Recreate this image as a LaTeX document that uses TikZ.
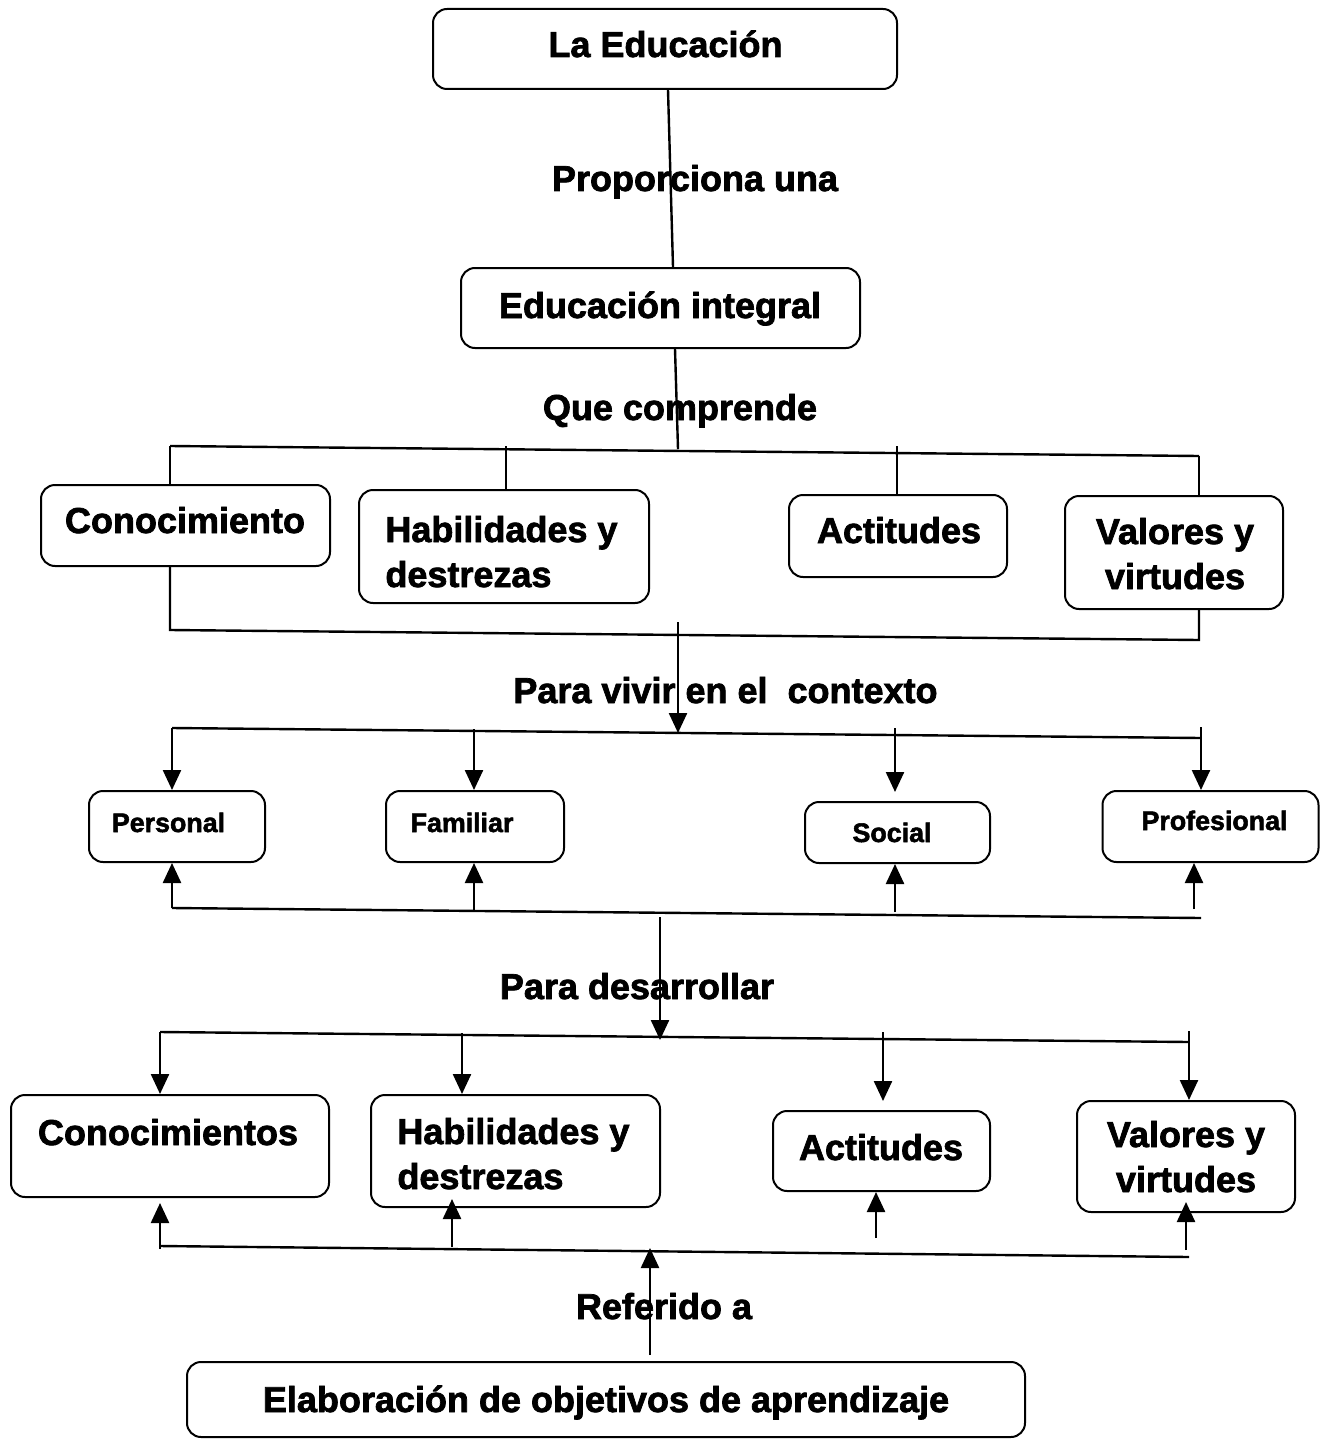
\documentclass[tikz,border=0pt]{standalone}
\usepackage{fontspec}
\setmainfont{Liberation Sans}[BoldFeatures={FakeBold=2}]
\usetikzlibrary{arrows.meta}
\begin{document}
\begin{tikzpicture}[x=0.5pt,y=-0.5pt,
  box/.style 2 args={draw,line width=1pt,rounded corners=7pt,minimum width=#1*0.5pt,minimum height=#2*0.5pt,inner sep=0pt},
  big/.style={font=\bfseries\fontsize{18}{22.5}\selectfont,inner sep=0pt},
  small/.style={font=\bfseries\fontsize{13.4}{16}\selectfont,inner sep=0pt},
  ln/.style={line width=1.2pt},
  arr/.style={ln,-{Triangle[width=9pt,length=10pt]}}]
\useasboundingbox (0,0) rectangle (1324,1439);

% boxes
\node[box={464}{80}] (edu) at (665,49) {};
\node[box={399}{80}] (integ) at (660.5,308) {};
\node[box={289}{81}] (con1) at (185.5,525.5) {};
\node[box={290}{113}] (hab1) at (504,546.5) {};
\node[box={218}{82}] (act1) at (898,536) {};
\node[box={218}{113}] (val1) at (1174,552.5) {};
\node[box={176}{71}] (per) at (177,826.5) {};
\node[box={178}{71}] (fam) at (475,826.5) {};
\node[box={185}{61}] (soc) at (897.5,832.5) {};
\node[box={216}{71}] (pro) at (1210.5,826.5) {};
\node[box={318}{102}] (con2) at (170,1146) {};
\node[box={289}{112}] (hab2) at (515.5,1151) {};
\node[box={217}{80}] (act2) at (881.5,1151) {};
\node[box={218}{111}] (val2) at (1186,1156.5) {};
\node[box={838}{75}] (elab) at (606,1399.5) {};

% texts (multi-line nodes are placed by the baseline of their last line)
\node[big,anchor=base] (tedu) at (665.5,57) {La Educación};
\node[big,anchor=base] (lprop) at (695,191) {Proporciona una};
\node[big,anchor=base] (tint) at (660,318) {Educación integral};
\node[big,anchor=base] (lque) at (680,420) {Que comprende};
\node[big,anchor=base] (tcon1) at (185,533) {Conocimiento};
\node[big,anchor=base west,align=left] (thab1) at (385,587) {Habilidades y\\destrezas};
\node[big,anchor=base] (tact1) at (899,543) {Actitudes};
\node[big,anchor=base,align=center] (tval1) at (1175,589) {Valores y\\virtudes};
\node[big,anchor=base] (lviv) at (725.5,703) {Para vivir en el\ \ contexto};
\node[small,anchor=base] (tper) at (168.5,832) {Personal};
\node[small,anchor=base] (tfam) at (462,832) {Familiar};
\node[small,anchor=base] (tsoc) at (892,842) {Social};
\node[small,anchor=base] (tpro) at (1214.5,830) {Profesional};
\node[big,anchor=base] (ldes) at (637,999) {Para desarrollar};
\node[big,anchor=base] (tcon2) at (168,1145) {Conocimientos};
\node[big,anchor=base west,align=left] (thab2) at (397,1189) {Habilidades y\\destrezas};
\node[big,anchor=base] (tact2) at (881,1160) {Actitudes};
\node[big,anchor=base,align=center] (tval2) at (1186,1192) {Valores y\\virtudes};
\node[big,anchor=base] (lref) at (664,1319) {Referido a};
\node[big,anchor=base] (telab) at (606,1412) {Elaboración de objetivos de aprendizaje};

% top connectors
\draw[ln] ([xshift=1.5pt]edu.south) -- ([xshift=6.25pt]integ.north);
\coordinate (q) at (678,449);
\draw[ln] ([xshift=7.25pt]integ.south) -- (q);

% bus 1
\coordinate (b1l) at (170,446);
\coordinate (b1r) at (1199,456);
\draw[ln] (b1l) -- (b1r);
\draw[ln] (b1l) -- (b1l |- con1.north);
\coordinate (h1) at (506,446);
\draw[ln] (h1) -- (h1 |- hab1.north);
\coordinate (a1) at (897,446);
\draw[ln] (a1) -- (a1 |- act1.north);
\draw[ln] (b1r) -- (b1r |- val1.north);
\coordinate (c1l) at (170,630);
\coordinate (c1r) at (1199,640);
\draw[ln] (c1l |- con1.south) -- (c1l) -- (c1r) -- (c1r |- val1.south);

% arrow to bus 2
\coordinate (v0) at (678,622);
\coordinate (v1) at (678,733);
\draw[arr] (v0) -- (v1);

% bus 2
\coordinate (b2l) at (172,728);
\coordinate (b2r) at (1201,738);
\draw[ln] (b2l) -- (b2r);
\draw[arr] (b2l) -- (b2l |- per.north);
\coordinate (f2) at (474,729);
\draw[arr] (f2) -- (f2 |- fam.north);
\coordinate (s2) at (895,728);
\draw[arr,shorten >=4.5pt] (s2) -- (s2 |- soc.north);
\coordinate (p2) at (1201,727);
\draw[arr] (p2) -- (p2 |- pro.north);

\coordinate (d2l) at (172,908);
\coordinate (d2r) at (1201,918);
\draw[ln] (d2l) -- (d2r);
\draw[arr] (d2l) -- (d2l |- per.south);
\coordinate (f3) at (474,911);
\draw[arr] (f3) -- (f3 |- fam.south);
\coordinate (s3) at (895,912);
\draw[arr] (s3) -- (s3 |- soc.south);
\coordinate (p3) at (1194,909);
\draw[arr] (p3) -- (p3 |- pro.south);

% arrow to bus 3
\coordinate (w0) at (660,917);
\coordinate (w1) at (660,1040);
\draw[arr] (w0) -- (w1);

% bus 3
\coordinate (b3l) at (160,1032);
\coordinate (b3r) at (1189,1042);
\draw[ln] (b3l) -- (b3r);
\draw[arr] (b3l) -- (b3l |- con2.north);
\coordinate (h3) at (462,1033);
\draw[arr] (h3) -- (h3 |- hab2.north);
\coordinate (a3) at (883,1032);
\draw[arr,shorten >=4.5pt] (a3) -- (a3 |- act2.north);
\coordinate (v3) at (1189,1031);
\draw[arr] (v3) -- (v3 |- val2.north);

\coordinate (e3l) at (160,1246);
\coordinate (e3r) at (1189,1257);
\draw[ln] (e3l) -- (e3r);
\coordinate (k1) at (160,1249);
\draw[arr,shorten >=2.5pt] (k1) -- (k1 |- con2.south);
\coordinate (k2) at (452,1247);
\draw[arr,shorten >=-4.5pt] (k2) -- (k2 |- hab2.south);
\coordinate (k3) at (876,1238);
\draw[arr] (k3) -- (k3 |- act2.south);
\coordinate (k4) at (1186,1250);
\draw[arr,shorten >=-5.5pt] (k4) -- (k4 |- val2.south);

% referido arrow
\coordinate (r1) at (650,1248);
\draw[arr] ([xshift=22pt,yshift=3pt]elab.north) -- (r1);
\end{tikzpicture}
\end{document}
